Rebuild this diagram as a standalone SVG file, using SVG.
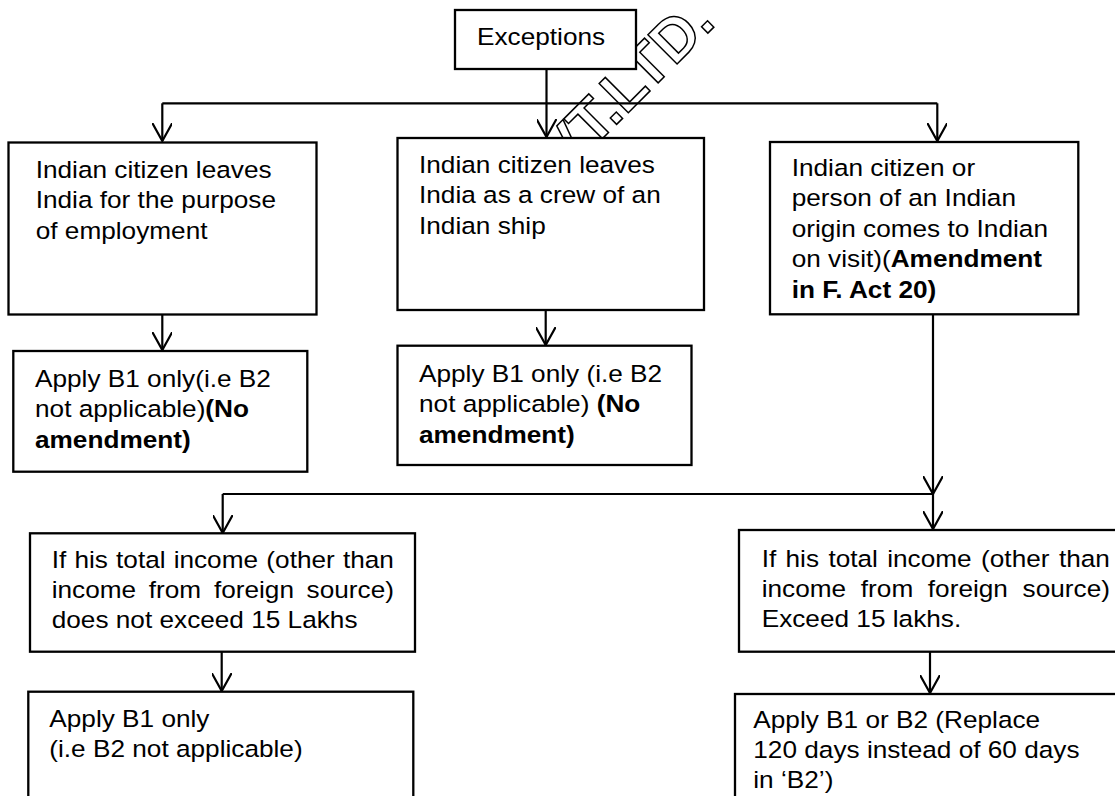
<svg xmlns="http://www.w3.org/2000/svg" width="1115" height="796" viewBox="0 0 1115 796">
<defs>
<style>
.box{fill:#fff;stroke:#000;stroke-width:2.3}
.t{font-family:"Liberation Sans",Arial,sans-serif;font-size:23.3px;fill:#000}
.b{font-weight:bold}
.ln{fill:none;stroke:#000;stroke-width:2.2}
.wm{font-family:"Liberation Sans",Arial,sans-serif;font-weight:bold;font-size:60px;fill:none;stroke:#000;stroke-width:1.5}
</style>
<marker id="arr" viewBox="0 0 20 20" refX="18" refY="10" markerWidth="20" markerHeight="20" orient="auto" markerUnits="userSpaceOnUse">
<path d="M0,0 L18,10 L0,20" fill="none" stroke="#000" stroke-width="2.2"/>
</marker>
</defs>
<rect width="1115" height="796" fill="#fff"/>
<g id="watermark">
<text class="wm" transform="translate(536,205) rotate(-45)">PVT.LTD.</text>
</g>
<g id="connectors">
<path class="ln" d="M546.5,69 L546.5,137" marker-end="url(#arr)"/>
<path class="ln" d="M162.3,103.3 L937.3,103.3"/>
<path class="ln" d="M162.3,103.3 L162.3,141" marker-end="url(#arr)"/>
<path class="ln" d="M937.3,103.3 L937.3,141" marker-end="url(#arr)"/>
<path class="ln" d="M162.3,314 L162.3,350" marker-end="url(#arr)"/>
<path class="ln" d="M545.7,310 L545.7,345" marker-end="url(#arr)"/>
<path class="ln" d="M933,314 L933,494" marker-end="url(#arr)"/>
<path class="ln" d="M933,494 L933,529" marker-end="url(#arr)"/>
<path class="ln" d="M222.7,494 L933,494"/>
<path class="ln" d="M222.7,494 L222.7,533" marker-end="url(#arr)"/>
<path class="ln" d="M221.7,651.7 L221.7,691" marker-end="url(#arr)"/>
<path class="ln" d="M930,651.7 L930,693" marker-end="url(#arr)"/>
</g>
<g id="exceptions">
<rect class="box" x="455" y="10" width="181" height="59"/>
<text class="t" transform="translate(477,45) scale(1.125,1)">Exceptions</text>
</g>
<g id="employment">
<rect class="box" x="8.5" y="142.5" width="308" height="172"/>
<text class="t" transform="translate(35.7,177.7) scale(1.125,1)"><tspan x="0">Indian citizen leaves</tspan><tspan x="0" dy="30.7">India for the purpose</tspan><tspan x="0" dy="30.7">of employment</tspan></text>
</g>
<g id="crew">
<rect class="box" x="397.5" y="138" width="306.5" height="172"/>
<text class="t" transform="translate(419,172.7) scale(1.125,1)"><tspan x="0">Indian citizen leaves</tspan><tspan x="0" dy="30.8">India as a crew of an</tspan><tspan x="0" dy="30.8">Indian ship</tspan></text>
</g>
<g id="visit">
<rect class="box" x="770" y="142" width="308.3" height="172.3"/>
<text class="t" transform="translate(791.7,176) scale(1.125,1)"><tspan x="0">Indian citizen or</tspan><tspan x="0" dy="30.5">person of an Indian</tspan><tspan x="0" dy="30.5">origin comes to Indian</tspan><tspan x="0" dy="30.5">on visit)(<tspan class="b">Amendment</tspan></tspan><tspan x="0" dy="30.5" class="b">in F. Act 20)</tspan></text>
</g>
<g id="b1-employment">
<rect class="box" x="13.3" y="351" width="294" height="120.7"/>
<text class="t" transform="translate(35,386.7) scale(1.125,1)"><tspan x="0">Apply B1 only(i.e B2</tspan><tspan x="0" dy="30.8">not applicable)<tspan class="b">(No</tspan></tspan><tspan x="0" dy="30.8" class="b">amendment)</tspan></text>
</g>
<g id="b1-crew">
<rect class="box" x="397.5" y="345.7" width="294" height="119.3"/>
<text class="t" transform="translate(419,381.7) scale(1.125,1)"><tspan x="0">Apply B1 only (i.e B2</tspan><tspan x="0" dy="30.8">not applicable) <tspan class="b">(No</tspan></tspan><tspan x="0" dy="30.8" class="b">amendment)</tspan></text>
</g>
<g id="not-exceed">
<rect class="box" x="30" y="533.3" width="385" height="118.4"/>
<text class="t" transform="translate(51.7,568.3) scale(1.125,1)"><tspan x="0">If</tspan><tspan x="20.2">his</tspan><tspan x="57.2">total</tspan><tspan x="108.4">income</tspan><tspan x="190.8">(other</tspan><tspan x="258.9">than</tspan></text>
<text class="t" transform="translate(51.7,598.3) scale(1.125,1)"><tspan x="0">income</tspan><tspan x="86.3">from</tspan><tspan x="144.2">foreign</tspan><tspan x="226.6">source)</tspan></text>
<text class="t" transform="translate(51.7,628.3) scale(1.125,1)">does not exceed 15 Lakhs</text>
</g>
<g id="exceed">
<rect class="box" x="739" y="530" width="390" height="121.7"/>
<text class="t" transform="translate(761.7,566.7) scale(1.125,1)"><tspan x="0">If</tspan><tspan x="21.2">his</tspan><tspan x="59.3">total</tspan><tspan x="111.6">income</tspan><tspan x="195">(other</tspan><tspan x="264.2">than</tspan></text>
<text class="t" transform="translate(761.7,597.3) scale(1.125,1)"><tspan x="0">income</tspan><tspan x="88.1">from</tspan><tspan x="147.7">foreign</tspan><tspan x="231.9">source)</tspan></text>
<text class="t" transform="translate(761.7,626.7) scale(1.125,1)">Exceed 15 lakhs.</text>
</g>
<g id="apply-b1">
<rect class="box" x="28.3" y="691.7" width="385" height="120"/>
<text class="t" transform="translate(49.3,726.7) scale(1.125,1)"><tspan x="0">Apply B1 only</tspan><tspan x="0" dy="30">(i.e B2 not applicable)</tspan></text>
</g>
<g id="apply-b1-b2">
<rect class="box" x="735" y="694" width="395" height="120"/>
<text class="t" transform="translate(753.3,728.3) scale(1.125,1)"><tspan x="0">Apply B1 or B2 (Replace</tspan><tspan x="0" dy="30">120 days instead of 60 days</tspan><tspan x="0" dy="30">in ‘B2’)</tspan></text>
</g>
</svg>
